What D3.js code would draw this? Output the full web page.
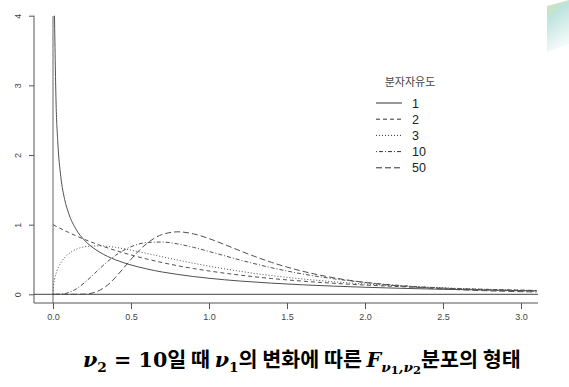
<!DOCTYPE html>
<html>
<head>
<meta charset="utf-8">
<script src="https://cdn.jsdelivr.net/npm/d3@7"></script>
<style>
  html, body { margin: 0; padding: 0; background: #fff; }
  svg { display: block; }
</style>
</head>
<body>
<svg id="svg"></svg>
<script>
// F(v1, 10) densities
const legendTitle = "분자자유도";
const dfLabels = ["1", "2", "3", "10", "50"];
const dashes = [null, "4,3", "1,2", "1,2,4,2", "6,3"];

const x1 = [0.0095, 0.02, 0.03, 0.05, 0.075, 0.1, 0.15, 0.2, 0.3, 0.4, 0.5, 0.6, 0.7, 0.8, 0.9, 1.0, 1.2, 1.4, 1.6, 1.8, 2.0, 2.25, 2.5, 2.75, 3.0, 3.1];
const y1 = [4.0, 2.72, 2.21, 1.69, 1.36, 1.165, 0.925, 0.78, 0.604, 0.496, 0.421, 0.365, 0.32, 0.285, 0.255, 0.23, 0.19, 0.16, 0.136, 0.117, 0.101, 0.085, 0.072, 0.062, 0.053, 0.05];

const x2 = [0, 0.1, 0.2, 0.3, 0.4, 0.5, 0.6, 0.7, 0.8, 0.9, 1.0, 1.2, 1.4, 1.6, 1.8, 2.0, 2.25, 2.5, 2.75, 3.0, 3.1];
const y2 = [1.0, 0.888, 0.79, 0.705, 0.63, 0.565, 0.507, 0.456, 0.41, 0.37, 0.335, 0.275, 0.227, 0.189, 0.158, 0.133, 0.108, 0.088, 0.072, 0.06, 0.055];

const x3 = [0, 0.005, 0.01, 0.025, 0.05, 0.1, 0.15, 0.2, 0.3, 0.4, 0.5, 0.6, 0.7, 0.8, 0.9, 1.0, 1.2, 1.4, 1.6, 1.8, 2.0, 2.25, 2.5, 2.75, 3.0, 3.1];
const y3 = [0, 0.157, 0.218, 0.335, 0.451, 0.58, 0.647, 0.681, 0.696, 0.674, 0.634, 0.587, 0.539, 0.491, 0.446, 0.404, 0.33, 0.269, 0.22, 0.18, 0.148, 0.117, 0.093, 0.074, 0.059, 0.055];

const x10 = [0, 0.05, 0.1, 0.15, 0.2, 0.25, 0.3, 0.35, 0.4, 0.5, 0.6, 0.7, 0.8, 0.9, 1.0, 1.2, 1.4, 1.6, 1.8, 2.0, 2.25, 2.5, 2.75, 3.0, 3.1];
const y10 = [0, 0.002, 0.024, 0.079, 0.163, 0.264, 0.37, 0.47, 0.558, 0.683, 0.743, 0.75, 0.723, 0.674, 0.615, 0.492, 0.382, 0.292, 0.223, 0.171, 0.123, 0.089, 0.066, 0.049, 0.043];

const x50 = [0, 0.1, 0.15, 0.2, 0.25, 0.3, 0.35, 0.4, 0.45, 0.5, 0.55, 0.6, 0.7, 0.8, 0.9, 1.0, 1.1, 1.2, 1.4, 1.6, 1.8, 2.0, 2.25, 2.5, 2.75, 3.0, 3.1];
const y50 = [0, 0, 0.0002, 0.003, 0.017, 0.058, 0.133, 0.242, 0.37, 0.502, 0.624, 0.727, 0.859, 0.897, 0.868, 0.8, 0.714, 0.624, 0.459, 0.331, 0.237, 0.17, 0.114, 0.077, 0.053, 0.038, 0.033];

const xTicks = [0, 0.5, 1.0, 1.5, 2.0, 2.5, 3.0];
const yTicks = [0, 1, 2, 3, 4];

const seriesX = [x1, x2, x3, x10, x50];
const seriesY = [y1, y2, y3, y10, y50];

let layout = {"width": 569, "height": 387, "left": 34, "right": 538, "top": 4, "bottom": 303};

let svgElement = d3.select("#svg")
  .attr("width", layout.width)
  .attr("height", layout.height);

// slide decoration, top right corner
const defs = svgElement.append("defs");
const grad = defs.append("linearGradient").attr("id", "deco")
  .attr("x1", 0).attr("y1", 0).attr("x2", 0.3).attr("y2", 1);
grad.append("stop").attr("offset", "0%").attr("stop-color", "#cfe8a8");
grad.append("stop").attr("offset", "35%").attr("stop-color", "#bfe3de");
grad.append("stop").attr("offset", "100%").attr("stop-color", "#f4fbfa");
svgElement.append("polygon")
  .attr("points", "547,6 569,0 569,44 547,52")
  .attr("fill", "url(#deco)");

defs.append("clipPath").attr("id", "plotClip")
  .append("rect")
  .attr("x", layout.left).attr("y", layout.top)
  .attr("width", layout.right - layout.left)
  .attr("height", layout.bottom - layout.top);

let xScale = d3.scaleLinear().domain([0, 3]).range([53, 521]);
let yScale = d3.scaleLinear().domain([0, 4]).range([294.3, 15.7]);

const axisColor = "#555";

// frame lines (L shape)
svgElement.append("line")
  .attr("x1", layout.left).attr("x2", layout.left)
  .attr("y1", yScale(4)).attr("y2", layout.bottom)
  .attr("stroke", axisColor);
svgElement.append("line")
  .attr("x1", layout.left).attr("x2", layout.right)
  .attr("y1", layout.bottom).attr("y2", layout.bottom)
  .attr("stroke", axisColor);

// x axis
let xAxis = svgElement.append("g")
  .attr("transform", `translate(0, ${layout.bottom})`)
  .call(d3.axisBottom(xScale).tickValues(xTicks).tickFormat(d3.format(".1f")).tickSize(6).tickSizeOuter(0));
xAxis.select(".domain").remove();
xAxis.selectAll("line").attr("stroke", axisColor);
xAxis.selectAll("text")
  .attr("fill", "#444")
  .attr("font-family", "Liberation Sans, Arial, sans-serif")
  .attr("font-size", 9)
  .attr("dy", "0.9em");

// y axis
let yAxis = svgElement.append("g")
  .attr("transform", `translate(${layout.left}, 0)`)
  .call(d3.axisLeft(yScale).tickValues(yTicks).tickFormat(d3.format("d")).tickSize(5));
yAxis.select(".domain").remove();
yAxis.selectAll("line").attr("stroke", axisColor);
yAxis.selectAll("text")
  .attr("fill", "#444")
  .attr("font-family", "Liberation Sans, Arial, sans-serif")
  .attr("font-size", 9)
  .attr("text-anchor", "middle")
  .attr("x", 0).attr("dy", 0)
  .attr("transform", "translate(-16, 0) rotate(-90)")
  .attr("y", 3);

// reference lines
svgElement.append("line")
  .attr("x1", xScale(0)).attr("x2", xScale(0))
  .attr("y1", 16).attr("y2", layout.bottom)
  .attr("stroke", "#666");
svgElement.append("line")
  .attr("x1", layout.left).attr("x2", layout.right)
  .attr("y1", yScale(0)).attr("y2", yScale(0))
  .attr("stroke", "#444");

// density curves
let lineFunction = d3.line()
  .x(d => xScale(d[0]))
  .y(d => yScale(d[1]))
  .curve(d3.curveMonotoneX);

let curves = dfLabels.map((lab, i) => seriesX[i].map((x, j) => [x, seriesY[i][j]]));

svgElement.append("g")
  .attr("clip-path", "url(#plotClip)")
  .selectAll(".fLine")
  .data(curves)
  .join("path")
  .attr("class", "fLine")
  .attr("fill", "none")
  .attr("stroke", "#505050")
  .attr("stroke-width", 1)
  .attr("stroke-dasharray", (d, i) => dashes[i])
  .attr("d", d => lineFunction(d));

// legend
let legend = svgElement.append("g");
legend.append("text")
  .attr("x", 410).attr("y", 86)
  .attr("text-anchor", "middle")
  .attr("font-family", "Noto Sans CJK KR, sans-serif")
  .attr("font-size", 11)
  .attr("fill", "#444")
  .text(legendTitle);
let rows = legend.selectAll(".row")
  .data(dfLabels)
  .join("g")
  .attr("class", "row")
  .attr("transform", (d, i) => `translate(0, ${103 + i * 16.2})`);
rows.append("line")
  .attr("x1", 376).attr("x2", 402)
  .attr("stroke", "#333")
  .attr("stroke-dasharray", (d, i) => dashes[i]);
rows.append("text")
  .attr("x", 412).attr("y", 4.5)
  .attr("font-family", "Liberation Sans, Arial, sans-serif")
  .attr("font-size", 12.5)
  .attr("fill", "#222")
  .text(d => d);

// caption
const mathFont = "DejaVu Serif, Liberation Serif, serif";
const korFont = "Noto Sans CJK KR, sans-serif";
const parts = [
  {t: "ν", f: mathFont, s: "italic"},
  {t: "2", f: mathFont, sub: true},
  {t: " = 10", f: mathFont},
  {t: "일 때 ", f: korFont},
  {t: "ν", f: mathFont, s: "italic"},
  {t: "1", f: mathFont, sub: true},
  {t: "의 변화에 따른 ", f: korFont},
  {t: "F", f: mathFont, s: "italic"},
  {t: "ν", f: mathFont, s: "italic", sub: true},
  {t: "1", f: mathFont, sub: true, tiny: true},
  {t: ",ν", f: mathFont, s: "italic", sub: true},
  {t: "2", f: mathFont, sub: true, tiny: true},
  {t: "분포의 형태", f: korFont}
];

function drawCaption(k) {
  svgElement.select("#caption").remove();
  let cap = svgElement.append("text")
    .attr("id", "caption")
    .attr("x", 83).attr("y", 367)
    .attr("font-weight", "bold")
    .attr("fill", "#000");
  let level = 0;
  parts.forEach(p => {
    const target = p.tiny ? 2 : (p.sub ? 1 : 0);
    const shift = ([0, 4, 6][target] - [0, 4, 6][level]) * k;
    level = target;
    cap.append("tspan")
      .attr("font-family", p.f)
      .attr("font-style", p.s || "normal")
      .attr("font-size", (p.tiny ? 10 : (p.sub ? 12 : 18)) * k)
      .attr("dy", shift)
      .text(p.t);
  });
  return cap;
}
let cap = drawCaption(1);
const w = cap.node().getBBox().width;
drawCaption(438 / w);
</script>
</body>
</html>
